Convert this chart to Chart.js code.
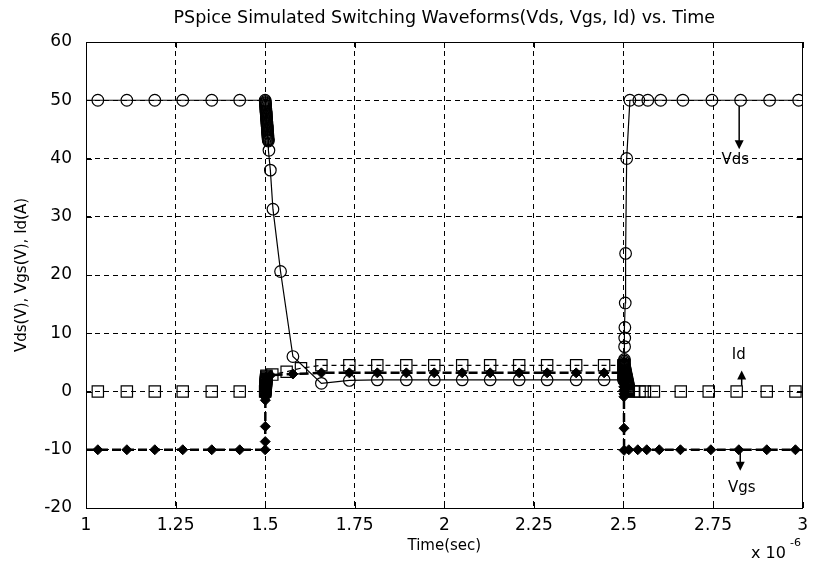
<!DOCTYPE html>
<html>
<head>
<meta charset="utf-8">
<script src="https://cdn.jsdelivr.net/npm/chart.js@4.4.0/dist/chart.umd.min.js"></script>
<style>
  body { margin: 0; background: #fff; }
  #wrap { width: 815px; height: 565px; position: relative; }
</style>
</head>
<body>
<div id="wrap"><canvas id="myChart"></canvas></div>
<script>
// values (time in microseconds)
var vdsTime = [1.0, 1.033, 1.114, 1.192, 1.270, 1.351, 1.429, 1.5,
  1.5003, 1.5005, 1.5008, 1.501, 1.5013, 1.5015, 1.5018, 1.502, 1.5023, 1.5025,
  1.5028, 1.503, 1.5033, 1.5035, 1.5038, 1.504, 1.5043, 1.5045, 1.5048, 1.505,
  1.5053, 1.5055, 1.5058, 1.506, 1.5063, 1.5065, 1.5068, 1.507, 1.5073, 1.5075,
  1.5078, 1.508, 1.5083, 1.5085, 1.509,
  1.5106, 1.5145, 1.5218, 1.543, 1.5775, 1.657, 1.735, 1.813, 1.894, 1.972, 2.05,
  2.128, 2.209, 2.287, 2.368, 2.446, 2.5,
  2.5002, 2.5004, 2.5006, 2.5008, 2.501, 2.5012, 2.5014, 2.5016, 2.5018, 2.502,
  2.5022, 2.5024, 2.5026, 2.5028, 2.5032, 2.5036, 2.504,
  2.505, 2.506, 2.509, 2.518, 2.543, 2.568, 2.604, 2.666, 2.747, 2.827, 2.908, 2.989];
var vdsValues = [50, 50, 50, 50, 50, 50, 50, 50,
  49.8, 49.6, 49.4, 49.2, 49.0, 48.8, 48.6, 48.4, 48.2, 48.0,
  47.8, 47.6, 47.4, 47.2, 47.0, 46.8, 46.6, 46.4, 46.2, 46.0,
  45.8, 45.6, 45.4, 45.2, 45.0, 44.8, 44.6, 44.4, 44.2, 44.0,
  43.8, 43.6, 43.4, 43.2, 43.0,
  41.4, 38.0, 31.3, 20.6, 6.0, 1.4, 1.9, 2.0, 2.0, 2.0, 2.0,
  2.0, 2.0, 2.0, 2.0, 2.0, 2.0,
  2.25, 2.5, 2.75, 3.0, 3.25, 3.5, 3.75, 4.0, 4.25, 4.5,
  4.75, 5.0, 5.25, 5.5, 7.7, 9.2, 11.0,
  15.2, 23.7, 40.0, 50, 50, 50, 50, 50, 50, 50, 50, 50];

var idTime = [1.0, 1.033, 1.114, 1.192, 1.270, 1.351, 1.429, 1.5,
  1.5002, 1.5004, 1.5006, 1.5008, 1.501, 1.5012, 1.5014, 1.5016, 1.5018,
  1.502, 1.5022, 1.5024, 1.5026, 1.5028, 1.503, 1.5032, 1.5034, 1.5036,
  1.52, 1.56, 1.6, 1.657, 1.735, 1.813, 1.894, 1.972, 2.05, 2.128, 2.209, 2.287, 2.368, 2.446, 2.5,
  2.5005, 2.501, 2.5015, 2.502, 2.5025, 2.503, 2.5035, 2.504, 2.5045, 2.505,
  2.5055, 2.506, 2.5065, 2.507, 2.5075, 2.508, 2.5085, 2.509, 2.5095, 2.51,
  2.5105, 2.511, 2.5115, 2.512, 2.5125, 2.513, 2.5135, 2.514, 2.5145, 2.515,
  2.53, 2.545, 2.56, 2.585, 2.66, 2.738, 2.816, 2.9, 2.98];
var idValues = [0, 0, 0, 0, 0, 0, 0, 0,
  0.15, 0.3, 0.45, 0.6, 0.75, 0.9, 1.05, 1.2, 1.35,
  1.5, 1.65, 1.8, 1.95, 2.1, 2.25, 2.4, 2.55, 2.7,
  2.9, 3.4, 4.0, 4.5, 4.5, 4.5, 4.5, 4.5, 4.5, 4.5, 4.5, 4.5, 4.5, 4.5, 4.5,
  4.35, 4.2, 4.05, 3.9, 3.75, 3.6, 3.45, 3.3, 3.15, 3.0,
  2.85, 2.7, 2.55, 2.4, 2.25, 2.1, 1.95, 1.8, 1.65, 1.5,
  1.35, 1.2, 1.05, 0.9, 0.75, 0.6, 0.45, 0.3, 0.15, 0,
  0, 0, 0, 0, 0, 0, 0, 0, 0];

var vgsTime = [1.0, 1.033, 1.114, 1.192, 1.270, 1.351, 1.429, 1.5,
  1.5002, 1.5004, 1.5006, 1.5008, 1.501, 1.5012, 1.5014, 1.5016, 1.5018, 1.502, 1.5022,
  1.515, 1.5775, 1.657, 1.735, 1.813, 1.894, 1.972, 2.05, 2.128, 2.209, 2.287, 2.368, 2.446, 2.5,
  2.5002, 2.5004, 2.5006, 2.5008, 2.501, 2.5012, 2.5014, 2.5016, 2.5018,
  2.515, 2.54, 2.565, 2.6, 2.659, 2.744, 2.822, 2.9, 2.98];
var vgsValues = [-10, -10, -10, -10, -10, -10, -10, -10,
  -8.6, -6.0, -1.5, -1.0, -0.5, 0, 0.5, 1.0, 1.5, 2.0, 2.5,
  2.8, 3.0, 3.2, 3.2, 3.2, 3.2, 3.2, 3.2, 3.2, 3.2, 3.2, 3.2, 3.2, 3.2,
  2.6, 2.0, 1.4, 0.8, 0.2, -0.4, -0.9, -6.3, -10.1,
  -10, -10, -10, -10, -10, -10, -10, -10, -10];

var xTickLabels = ['1', '1.25', '1.5', '1.75', '2', '2.25', '2.5', '2.75', '3'];
var yTickLabels = ['-20', '-10', '0', '10', '20', '30', '40', '50', '60'];

var FONT = '"DejaVu Sans", "Liberation Sans", Arial, sans-serif';

function pts(t, v) {
    return t.map(function (x, i) { return { x: x, y: v[i] }; });
}
function hideFirst(r) {
    return function (c) { return c.dataIndex === 0 ? 0 : r; };
}

// box, inner ticks, labels and the little arrow annotations
var decor = {
    id: 'decor',
    afterDraw: function (chart) {
        var ctx = chart.ctx, a = chart.chartArea;
        var sx = chart.scales.x, sy = chart.scales.y;
        ctx.save();
        ctx.strokeStyle = '#000';
        ctx.fillStyle = '#000';
        ctx.lineWidth = 1;
        ctx.setLineDash([]);
        ctx.strokeRect(Math.round(a.left) + 0.5, Math.round(a.top) + 0.5,
            Math.round(a.right - a.left) - 1, Math.round(a.bottom - a.top));
        // inner tick marks
        ctx.beginPath();
        sy.ticks.forEach(function (t) {
            var p = Math.round(sy.getPixelForValue(t.value)) + 0.5;
            ctx.moveTo(a.left, p); ctx.lineTo(a.left + 6, p);
            ctx.moveTo(a.right, p); ctx.lineTo(a.right - 6, p);
        });
        sx.ticks.forEach(function (t) {
            var p = Math.round(sx.getPixelForValue(t.value)) + 0.5;
            ctx.moveTo(p, a.bottom); ctx.lineTo(p, a.bottom - 6);
            ctx.moveTo(p, a.top); ctx.lineTo(p, a.top + 6);
        });
        ctx.stroke();

        // texts
        ctx.textAlign = 'center';
        ctx.textBaseline = 'middle';
        ctx.font = '17.5px ' + FONT;
        ctx.fillText('PSpice Simulated Switching Waveforms(Vds, Vgs, Id) vs. Time', (a.left + a.right) / 2, 18);
        ctx.font = '15px ' + FONT;
        ctx.fillText('Time(sec)', (a.left + a.right) / 2, 546);
        ctx.save();
        ctx.translate(22, (a.top + a.bottom) / 2);
        ctx.rotate(-Math.PI / 2);
        ctx.fillText('Vds(V), Vgs(V), Id(A)', 0, 0);
        ctx.restore();
        ctx.textAlign = 'left';
        ctx.font = '16px ' + FONT;
        ctx.fillText('x 10', 751, 554);
        ctx.font = '11px ' + FONT;
        ctx.fillText('-6', 790, 543);

        // annotations
        function arrow(t, y0, y1) {
            var x = sx.getPixelForValue(t);
            var p0 = sy.getPixelForValue(y0), p1 = sy.getPixelForValue(y1);
            var dir = p1 > p0 ? 1 : -1;
            ctx.beginPath();
            ctx.lineWidth = 1.5;
            ctx.moveTo(x, p0); ctx.lineTo(x, p1 - dir * 5);
            ctx.stroke();
            ctx.beginPath();
            ctx.moveTo(x, p1);
            ctx.lineTo(x - 4.5, p1 - dir * 9);
            ctx.lineTo(x + 4.5, p1 - dir * 9);
            ctx.closePath();
            ctx.fill();
        }
        function label(t, v, s) {
            ctx.font = '15px ' + FONT;
            ctx.textAlign = 'center';
            ctx.fillText(s, sx.getPixelForValue(t), sy.getPixelForValue(v));
        }
        arrow(2.823, 49, 41.6);
        label(2.812, 39.7, 'Vds');
        arrow(2.83, 1.0, 3.6);
        label(2.822, 6.3, 'Id');
        arrow(2.826, -10.2, -13.6);
        label(2.83, -16.6, 'Vgs');
        ctx.restore();
    }
};

var ctx = document.getElementById('myChart').getContext('2d');
var myChart = new Chart(ctx, {
    type: 'line',
    data: {
        datasets: [{
            label: 'Vgs',
            data: pts(vgsTime, vgsValues),
            borderColor: '#000',
            backgroundColor: '#000',
            borderWidth: 2.5,
            borderDash: [9, 4],
            pointStyle: 'rectRot',
            pointRadius: hideFirst(5),
            pointBorderWidth: 1,
            tension: 0
        }, {
            label: 'Id',
            data: pts(idTime, idValues),
            borderColor: '#000',
            backgroundColor: 'rgba(0,0,0,0)',
            borderWidth: 1.2,
            borderDash: [5, 4],
            pointStyle: 'rect',
            pointRadius: hideFirst(8),
            pointBorderWidth: 1.2,
            tension: 0
        }, {
            label: 'Vds',
            data: pts(vdsTime, vdsValues),
            borderColor: '#000',
            backgroundColor: 'rgba(0,0,0,0)',
            borderWidth: 1.2,
            pointStyle: 'circle',
            pointRadius: hideFirst(5.8),
            pointBorderWidth: 1.2,
            tension: 0
        }]
    },
    options: {
        responsive: true,
        maintainAspectRatio: false,
        animation: false,
        layout: { padding: { left: 0, right: 11, top: 42, bottom: 27 } },
        plugins: {
            legend: { display: false },
            tooltip: { enabled: false }
        },
        scales: {
            x: {
                type: 'linear',
                min: 1,
                max: 3,
                afterFit: function (s) { s.height = 30; },
                afterBuildTicks: function (s) {
                    s.ticks = xTickLabels.map(function (l) { return { value: +l }; });
                },
                ticks: {
                    color: '#000',
                    padding: 7,
                    maxRotation: 0,
                    font: { family: FONT, size: 17 },
                    callback: function (v, i) { return xTickLabels[i]; }
                },
                grid: { color: '#000', lineWidth: 1, drawTicks: false },
                border: { display: false, dash: [5, 4] }
            },
            y: {
                type: 'linear',
                min: -20,
                max: 60,
                afterFit: function (s) { s.width = 86; },
                afterBuildTicks: function (s) {
                    s.ticks = yTickLabels.map(function (l) { return { value: +l }; });
                },
                ticks: {
                    color: '#000',
                    padding: 14,
                    font: { family: FONT, size: 17 },
                    callback: function (v, i) { return yTickLabels[i]; }
                },
                grid: { color: '#000', lineWidth: 1, drawTicks: false },
                border: { display: false, dash: [5, 4] }
            }
        }
    },
    plugins: [decor]
});
</script>
</body>
</html>
